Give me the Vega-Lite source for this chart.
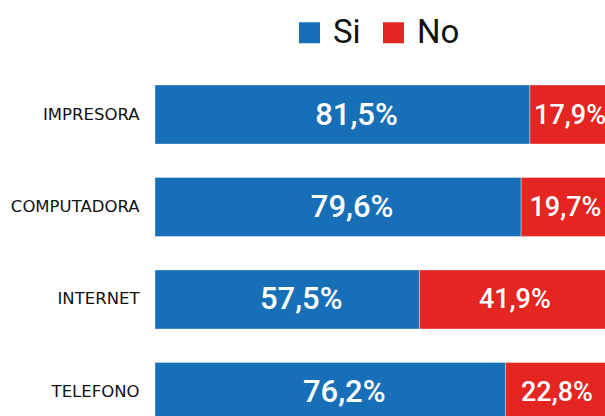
{
  "$schema": "https://vega.github.io/schema/vega-lite/v6.json",
  "width": 450,
  "height": 356,
  "autosize": {"type": "none"},
  "padding": {"left": 155, "top": 60, "right": 0, "bottom": 0},
  "background": "white",
  "data": {
    "values": [
      {"item": "IMPRESORA", "respuesta": "Si", "valor": 81.5},
      {"item": "IMPRESORA", "respuesta": "No", "valor": 17.9},
      {"item": "COMPUTADORA", "respuesta": "Si", "valor": 79.6},
      {"item": "COMPUTADORA", "respuesta": "No", "valor": 19.7},
      {"item": "INTERNET", "respuesta": "Si", "valor": 57.5},
      {"item": "INTERNET", "respuesta": "No", "valor": 41.9},
      {"item": "TELEFONO", "respuesta": "Si", "valor": 76.2},
      {"item": "TELEFONO", "respuesta": "No", "valor": 22.8}
    ]
  },
  "transform": [
    {"stack": "valor", "groupby": ["item"], "sort": [{"field": "respuesta", "order": "descending"}], "as": ["x0", "x1"]},
    {"calculate": "(datum.x0 + datum.x1) / 2", "as": "mid"},
    {"calculate": "replace(format(datum.valor, '.1f'), '.', ',') + '%'", "as": "etiqueta"}
  ],
  "encoding": {
    "y": {
      "field": "item",
      "type": "nominal",
      "sort": ["IMPRESORA", "COMPUTADORA", "INTERNET", "TELEFONO"],
      "scale": {"range": [25, 361.5], "paddingInner": 0.362, "paddingOuter": 0},
      "axis": {
        "title": null,
        "domain": false,
        "ticks": false,
        "labelFont": "DejaVu Sans",
        "labelFontSize": 16.5,
        "labelColor": "#111111",
        "labelPadding": 16
      }
    }
  },
  "layer": [
    {
      "mark": {"type": "bar", "clip": true, "stroke": "white", "strokeWidth": 0.8, "strokeOpacity": 0.45},
      "encoding": {
        "x": {"field": "x0", "type": "quantitative", "scale": {"domain": [0, 100], "range": [0, 460]}, "axis": null},
        "x2": {"field": "x1"},
        "color": {
          "field": "respuesta",
          "type": "nominal",
          "scale": {"domain": ["Si", "No"], "range": ["#166fb7", "#e42521"]},
          "legend": {
            "title": null,
            "orient": "none",
            "legendX": 138,
            "legendY": -44,
            "direction": "horizontal",
            "symbolType": "square",
            "symbolSize": 441,
            "symbolStrokeWidth": 0,
            "labelFont": "Roboto",
            "labelFontSize": 33,
            "labelColor": "#111111",
            "labelOffset": 7,
            "columnPadding": 16
          }
        }
      }
    },
    {
      "transform": [{"filter": "datum.respuesta == 'Si'"}],
      "mark": {"type": "text", "clip": true, "color": "white", "font": "Roboto", "fontWeight": 500, "fontSize": 31, "baseline": "middle", "dy": 1, "dx": 14},
      "encoding": {
        "x": {"field": "mid", "type": "quantitative"},
        "text": {"field": "etiqueta"}
      }
    },
    {
      "transform": [{"filter": "datum.respuesta == 'No'"}],
      "mark": {"type": "text", "clip": true, "color": "white", "font": "Roboto", "fontWeight": 500, "fontSize": 27, "baseline": "middle", "dy": 1, "dx": -1},
      "encoding": {
        "x": {"field": "mid", "type": "quantitative"},
        "text": {"field": "etiqueta"}
      }
    }
  ],
  "config": {"view": {"stroke": null}}
}
